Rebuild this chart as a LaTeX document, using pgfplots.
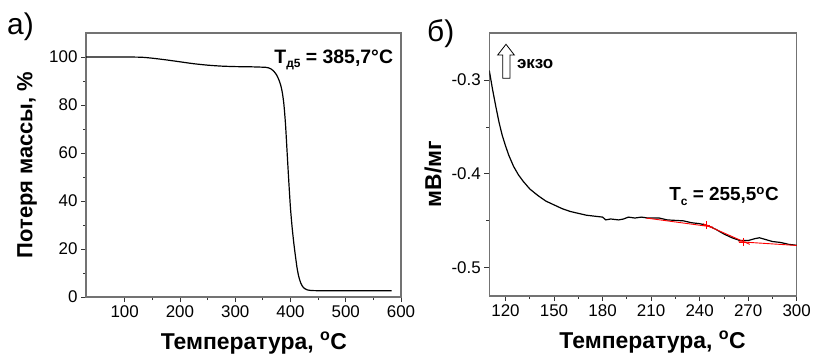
\documentclass[border=0pt]{standalone}
\usepackage{fontspec}
\setmainfont{Liberation Sans}
\usepackage{pgfplots}
\pgfplotsset{compat=1.18}
\begin{document}
\begin{tikzpicture}
\path[use as bounding box] (0bp,0bp) rectangle (813bp,355bp);
\pgfplotsset{
  common/.style={
    scale only axis,
    tick pos=left,
    tick align=outside,
    major tick length=5bp,
    minor tick length=3bp,
    minor tick num=1,
    axis line style={draw=black!55, line width=1.2bp},
    every tick/.style={black!80, line width=0.8bp},
    ticklabel style={font=\fontsize{17}{18}\selectfont},
    /pgf/number format/assume math mode=true,
    label style={font=\bfseries\fontsize{23}{24}\selectfont},
  }
}
% ---------- panel a ----------
\begin{axis}[common,
  at={(86bp,58bp)}, anchor=south west,
  width=315bp, height=264bp,
  xmin=30, xmax=600, ymin=0, ymax=110,
  xtick={100,200,...,600}, ytick={0,20,...,100},
  xlabel={Температура, \textsuperscript{o}C},
  ylabel={Потеря массы, \%},
  xlabel style={at={(axis description cs:0.533,-0.2)}, anchor=base},
  ylabel style={at={(axis description cs:-0.187,0.5)}, anchor=center, font=\bfseries\fontsize{22}{24}\selectfont},
]
\addplot[black, line width=1.2bp, smooth, tension=0.4] coordinates {
(30,100) (60,100) (100,100) (130,99.9) (150,99.5) (175,98.8) (200,98.0)
(225,97.2) (250,96.6) (275,96.2) (300,96.0) (330,95.9) (355,95.7)
(360,95.5) (365,95.0) (370,94.0) (375,92.5) (379,90.5) (382,88.5) (385,85.5)
(388,80.5) (391,72) (394,60) (397,48) (400,37) (403,29) (406,22.5)
(409,17) (412,12) (415,8.5) (418,6.2) (421,4.7) (425,3.6) (430,3.0)
(438,2.7) (460,2.6) (500,2.6) (540,2.6) (583,2.6)
};
\node[anchor=base east, font=\bfseries\fontsize{19.5}{20}\selectfont, inner sep=0]
  at (axis cs:586,97.4) {T\raisebox{-4.5bp}{\fontsize{12}{12}\selectfont д5} = 385,7°C};
\end{axis}
% ---------- panel b ----------
\begin{axis}[common,
  at={(489.3bp,59bp)}, anchor=south west,
  width=307.4bp, height=263bp,
  xmin=110, xmax=300, ymin=-0.53, ymax=-0.25,
  xtick={120,150,...,300}, ytick={-0.5,-0.4,-0.3},
  yticklabel style={/pgf/number format/.cd, fixed, fixed zerofill, precision=1},
  xlabel={Температура, \textsuperscript{o}C},
  ylabel={мВ/мг},
  xlabel style={at={(axis description cs:0.531,-0.198)}, anchor=base},
  ylabel style={at={(axis description cs:-0.183,0.464)}, anchor=center, font=\bfseries\fontsize{23}{24}\selectfont},
]
\addplot[black, line width=1.2bp] coordinates {
(110,-0.290) (112,-0.310) (114,-0.328) (116,-0.345) (118,-0.359) (120,-0.370)
(122,-0.380) (125,-0.392) (128,-0.401) (131,-0.408) (135,-0.416) (140,-0.423)
(145,-0.429) (150,-0.433) (155,-0.437) (160,-0.440) (165,-0.442) (170,-0.444)
(175,-0.445) (180,-0.446) (182,-0.449) (185,-0.448) (190,-0.449) (193,-0.448)
(196,-0.446) (200,-0.447) (204,-0.446) (208,-0.447) (215,-0.447) (220,-0.449)
(230,-0.450) (235,-0.452) (240,-0.453) (245,-0.455) (250,-0.459) (255,-0.464)
(260,-0.468) (265,-0.471) (270,-0.471) (274,-0.469) (277,-0.468) (281,-0.470)
(285,-0.472) (290,-0.473) (295,-0.475) (300,-0.476)
};
\addplot[red, line width=0.9bp] coordinates {(207,-0.447) (248,-0.4565)};
\addplot[red, line width=0.9bp] coordinates {(242,-0.4530) (271,-0.4750)};
\addplot[red, line width=0.9bp] coordinates {(264,-0.4722) (300,-0.4762)};
\addplot[red, only marks, mark=+, mark size=4bp, line width=0.8bp] coordinates {(244,-0.4545) (267,-0.4725)};
\node[anchor=base east, font=\bfseries\fontsize{19}{20}\selectfont, inner sep=0]
  at (axis cs:289,-0.4288) {T\raisebox{-5bp}{\fontsize{12}{12}\selectfont c} = 255,5\textsuperscript{o}C};
\node[anchor=base west, font=\bfseries\fontsize{17}{17}\selectfont, inner sep=0]
  at (axis cs:127,-0.2883) {экзо};
\draw[black, line width=0.8bp, fill=white]
  (axis cs:118.28,-0.2982) -- (axis cs:118.28,-0.2734) -- (axis cs:115.19,-0.2734)
  -- (axis cs:120.32,-0.2620) -- (axis cs:125.45,-0.2734) -- (axis cs:122.79,-0.2734)
  -- (axis cs:122.79,-0.2982) -- cycle;
\end{axis}
% panel labels
\node[anchor=base west, inner sep=0, font=\fontsize{30}{32}\selectfont] at (7bp,320bp) {а)};
\node[anchor=base west, inner sep=0, font=\fontsize{30}{32}\selectfont] at (427bp,313bp) {б)};
\end{tikzpicture}
\end{document}
